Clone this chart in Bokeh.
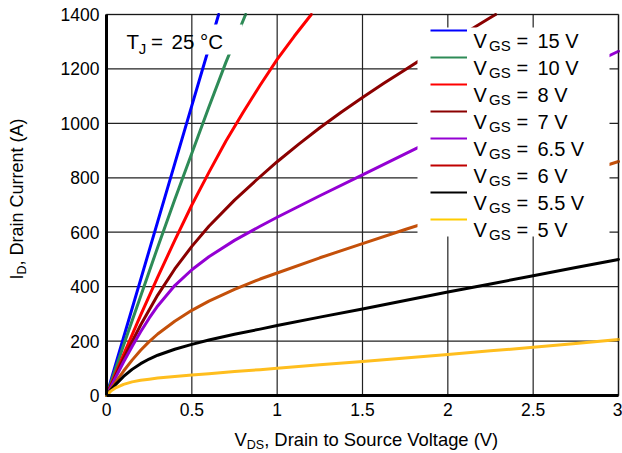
from bokeh.plotting import figure
from bokeh.models import Range1d, FixedTicker, Label, BoxAnnotation, Legend, LegendItem
from bokeh.embed import file_html
from bokeh.resources import INLINE

# ---------------------------------------------------------------------------
# Output characteristics: drain current vs drain-source voltage, T_J = 25 °C
# ---------------------------------------------------------------------------
x_ticks = [0, 0.5, 1, 1.5, 2, 2.5, 3]
x_tick_labels = ["0", "0.5", "1", "1.5", "2", "2.5", "3"]
y_ticks = [0, 200, 400, 600, 800, 1000, 1200, 1400]
y_tick_labels = ["0", "200", "400", "600", "800", "1000", "1200", "1400"]

vgs_values = ["15", "10", "8", "7", "6.5", "6", "5.5", "5"]

# steep curves leave the top of the chart, so each has its own V_DS points
vds_15 = [0, 0.1, 0.2, 0.3, 0.4, 0.5, 0.6, 0.657]
id_15 = [0, 213, 426, 639, 852, 1065, 1278, 1400]
vds_10 = [0, 0.1, 0.2, 0.3, 0.4, 0.5, 0.6, 0.7, 0.815]
id_10 = [0, 185, 365, 545, 720, 890, 1060, 1225, 1400]
vds_8 = [0, 0.1, 0.2, 0.3, 0.4, 0.5, 0.6, 0.7, 0.8, 0.9, 1.0, 1.1, 1.2]
id_8 = [0, 150, 295, 435, 570, 700, 820, 935, 1040, 1140, 1235, 1320, 1400]
vds_7 = [0, 0.1, 0.2, 0.3, 0.4, 0.5, 0.6, 0.75, 0.875, 1.0, 1.125, 1.25, 1.375,
         1.5, 1.625, 1.75, 1.875, 2.0, 2.125, 2.25, 2.28]
id_7 = [0, 136, 259, 369, 465, 548, 622, 718, 790, 859, 923, 984, 1041,
        1095, 1147, 1197, 1247, 1294, 1341, 1389, 1400]

vds_full = [0, 0.025, 0.05, 0.1, 0.15, 0.2, 0.25, 0.3, 0.4, 0.5, 0.6, 0.75, 0.9, 1.0,
            1.25, 1.5, 1.75, 2.0, 2.25, 2.5, 2.75, 3.0]
id_6_5 = [0, 31, 62, 123, 180, 234, 284, 329, 404, 462, 510, 570, 622, 655,
          734, 811, 888, 965, 1040, 1115, 1190, 1265]
id_6 = [0, 23, 46, 90, 130, 166, 198, 226, 273, 313, 347, 390, 428, 450,
        506, 558, 610, 660, 710, 760, 810, 860]
id_5_5 = [0, 20, 38, 70, 96, 117, 134, 148, 170, 188, 204, 225, 244, 257,
          288, 318, 349, 380, 410, 440, 470, 500]
id_5 = [0, 16, 27, 41, 50, 56, 60, 64, 70, 75, 80, 88, 95, 100,
        113, 125, 138, 151, 164, 177, 191, 206]

curve_colors = ["#0000FF", "#2E8B57", "#FF0000", "#8B0000", "#9400D3", "#C4500A", "#000000", "#FFBE1E"]
swatch_colors = ["#0000FF", "#2E8B57", "#FF0000", "#8B0000", "#9400D3", "#C00000", "#000000", "#FFCC00"]

FONT = "Liberation Sans"

# the frame fills the whole canvas; the chart box sits inside it at these pixels
W, H = 622, 453
BOX_L, BOX_R, BOX_T, BOX_B = 106, 618, 14, 395
x_lo, x_hi = x_ticks[0], x_ticks[-1]
y_lo, y_hi = y_ticks[0], y_ticks[-1]
sx = (BOX_R - BOX_L) / (x_hi - x_lo)
sy = (BOX_B - BOX_T) / (y_hi - y_lo)
x_range = Range1d(x_lo - BOX_L / sx, x_hi + (W - BOX_R) / sx)
y_range = Range1d(y_lo - (H - BOX_B) / sy, y_hi + BOX_T / sy)

p = figure(width=W, height=H, x_range=x_range, y_range=y_range,
           output_backend="svg", toolbar_location=None, min_border=0)
p.background_fill_color = "white"
p.border_fill_color = "white"
p.outline_line_color = None
p.grid.visible = False

# grid lines at every tick, limited to the chart box
n_x, n_y = len(x_ticks), len(y_ticks)
p.segment(x0=x_ticks, y0=[y_lo] * n_x, x1=x_ticks, y1=[y_hi] * n_x,
          line_color="#222222", line_width=1.2)
p.segment(x0=[x_lo] * n_y, y0=y_ticks, x1=[x_hi] * n_y, y1=y_ticks,
          line_color="#222222", line_width=1.2)

# axes pinned to the chart box edges
p.xaxis.fixed_location = y_lo
p.yaxis.fixed_location = x_lo
p.xaxis.bounds = (x_lo, x_hi)
p.yaxis.bounds = (y_lo, y_hi)
for ax, ticks, labels in ((p.xaxis[0], x_ticks, x_tick_labels), (p.yaxis[0], y_ticks, y_tick_labels)):
    ax.ticker = FixedTicker(ticks=ticks)
    ax.major_label_overrides = dict(zip(ticks, labels))
    ax.axis_line_width = 3
    ax.axis_line_color = "black"
    ax.major_tick_in = 0
    ax.major_tick_out = 0
    ax.minor_tick_in = 0
    ax.minor_tick_out = 0
    ax.major_label_text_font = FONT
    ax.major_label_text_font_size = "17.5px"
    ax.major_label_text_color = "black"
p.xaxis.major_label_standoff = 7
p.yaxis.major_label_standoff = 7

# curves
series = [
    (vds_15, id_15), (vds_10, id_10), (vds_8, id_8), (vds_7, id_7),
    (vds_full, id_6_5), (vds_full, id_6), (vds_full, id_5_5), (vds_full, id_5),
]
for (xs, ys), col in zip(series, curve_colors):
    p.line(xs, ys, line_color=col, line_width=3, line_join="round", line_cap="round")

# top and right border of the chart box
p.add_layout(BoxAnnotation(left=x_lo, right=x_hi, bottom=y_lo, top=y_hi,
                           fill_alpha=0, line_color="black", line_width=2))

# white patch behind the temperature note
p.add_layout(BoxAnnotation(left=195, right=242, top=24, bottom=54,
                           left_units="canvas", right_units="canvas",
                           top_units="canvas", bottom_units="canvas",
                           fill_color="white", fill_alpha=1, line_alpha=0))

# legend: white box, thin swatches, text drawn as labels so V_GS gets a subscript
p.add_layout(BoxAnnotation(left=417, right=609, top=27, bottom=236,
                           left_units="canvas", right_units="canvas",
                           top_units="canvas", bottom_units="canvas",
                           fill_color="white", fill_alpha=1, line_alpha=0))

nan = float("nan")
swatches = [p.line([nan], [nan], line_color=c, line_width=2) for c in swatch_colors]
legend = Legend(items=[LegendItem(label=" ", renderers=[r]) for r in swatches],
                location=(430, 230), orientation="vertical",
                glyph_width=37, glyph_height=8, label_height=8, label_width=1,
                label_standoff=0, label_text_font_size="1px",
                spacing=19, padding=0, margin=0,
                border_line_alpha=0, background_fill_alpha=0)
p.add_layout(legend)

UPRIGHT, ROTATED = 0.0, 1.5707963
BASE_SHIFT = 0.27  # baseline correction, as a fraction of the font size


def text(s, x, y, size, angle=UPRIGHT):
    shift = BASE_SHIFT * size
    if angle == UPRIGHT:
        y -= shift
    else:
        x -= shift
    p.add_layout(Label(x=x, y=y, x_units="canvas", y_units="canvas", text=s,
                       angle=angle, text_font=FONT, text_font_size=f"{size}px",
                       text_color="black", text_align="left",
                       text_baseline="alphabetic"))


for i, v in enumerate(vgs_values):
    base = 33.3 + 27 * i + 12.5
    text("V", 473, base, 20)
    text("GS", 488.5, base + 3, 15)
    text("=", 516, base, 20)
    text(f"{v} V", 537, base, 20)

# temperature note
text("T", 126, 46.7, 20.5)
text("J", 138.3, 52.5, 15)
text("=", 150.5, 46.7, 20.5)
text("25 °C", 171, 46.7, 20.5)

# axis titles with subscripts
ADV = {' ': 278, ',': 278, '(': 333, ')': 333, 'A': 667, 'C': 722, 'D': 722,
       'I': 278, 'S': 667, 'V': 667, 'a': 556, 'c': 500, 'e': 556, 'g': 556,
       'i': 222, 'l': 222, 'n': 556, 'o': 556, 'r': 333, 't': 278, 'u': 556}


def adv(s, size):
    return sum(ADV[c] for c in s) * size / 1000.0


# x title
x0, yb = 234, 443.5
text("V", x0, yb, 18.4)
x0 += adv("V", 18.4)
text("DS", x0, yb + 4, 12.5)
x0 += adv("DS", 12.5)
text(", Drain to Source Voltage (V)", x0, yb, 18.4)

# y title, rotated to read bottom-to-top
ys0, xb = 279, 21
text("I", xb, ys0, 18, angle=ROTATED)
ys0 -= adv("I", 18)
text("D", xb + 4, ys0, 12.5, angle=ROTATED)
ys0 -= adv("D", 12.5)
text(", Drain Current (A)", xb, ys0, 18, angle=ROTATED)

open("out.html", "w").write(file_html(p, INLINE))
